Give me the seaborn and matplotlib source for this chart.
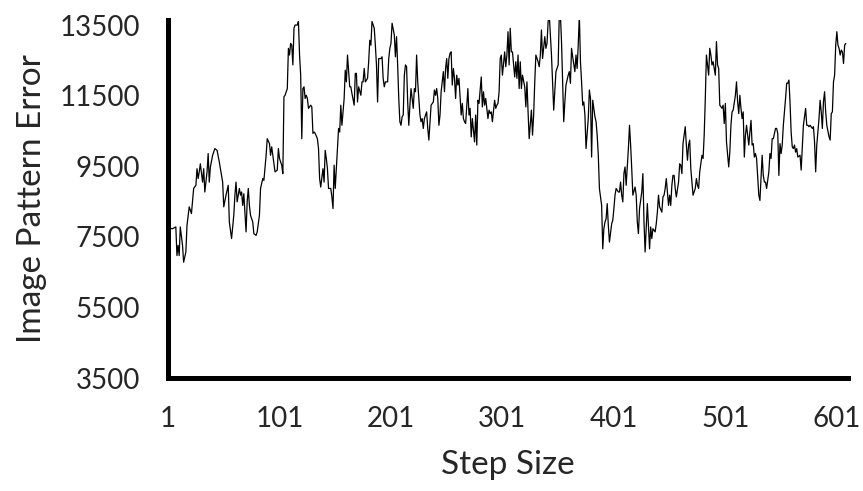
import seaborn as sns
import matplotlib.pyplot as plt
import pandas as pd

# values
steps = [
    1, 5, 8, 9, 10, 11, 12, 14, 15, 17, 18, 20, 22, 24, 26, 27, 28, 29, 30, 32,
    33, 34, 36, 37, 38, 39, 41, 43, 45, 47, 48, 50, 51, 53, 55, 56, 58, 60, 61, 62,
    63, 65, 66, 67, 68, 69, 71, 72, 73, 74, 75, 77, 78, 80, 81, 83, 84, 86, 87, 89,
    90, 92, 93, 94, 95, 97, 99, 100, 101, 102, 103, 104, 105, 106, 108, 109, 110, 111, 112, 113,
    114, 115, 117, 118, 119, 120, 121, 122, 123, 124, 125, 126, 127, 129, 130, 131, 132, 133, 135, 136,
    137, 138, 140, 141, 142, 143, 144, 145, 147, 148, 149, 150, 151, 153, 154, 155, 156, 157, 159, 160,
    161, 162, 163, 164, 165, 166, 168, 169, 170, 171, 172, 174, 175, 176, 177, 178, 180, 181, 182, 183,
    184, 186, 187, 188, 189, 190, 192, 193, 194, 195, 196, 198, 199, 200, 201, 202, 204, 205, 206, 207,
    208, 209, 210, 211, 212, 213, 214, 215, 216, 217, 218, 219, 221, 222, 223, 224, 225, 227, 228, 229,
    230, 231, 233, 234, 235, 236, 237, 239, 240, 241, 242, 243, 244, 245, 246, 248, 249, 250, 251, 252,
    253, 254, 255, 256, 257, 258, 259, 260, 261, 262, 264, 265, 266, 267, 268, 270, 271, 272, 273, 274,
    276, 277, 278, 279, 280, 282, 283, 284, 285, 286, 288, 289, 290, 291, 292, 294, 295, 296, 297, 298,
    299, 300, 301, 303, 304, 305, 306, 307, 308, 309, 310, 312, 313, 314, 315, 316, 317, 318, 319, 321,
    322, 323, 324, 325, 327, 328, 329, 330, 331, 333, 334, 335, 336, 337, 339, 340, 341, 342, 343, 345,
    346, 347, 348, 349, 351, 352, 353, 354, 355, 356, 357, 358, 360, 361, 362, 363, 364, 366, 367, 368,
    369, 370, 371, 372, 373, 374, 375, 376, 378, 379, 380, 381, 382, 384, 385, 386, 387, 388, 390, 391,
    392, 393, 394, 395, 396, 397, 399, 400, 401, 402, 403, 405, 406, 407, 408, 409, 410, 411, 412, 414,
    415, 416, 417, 418, 420, 421, 422, 423, 424, 426, 427, 428, 429, 430, 431, 432, 433, 434, 435, 436,
    438, 439, 440, 441, 442, 444, 445, 446, 447, 448, 450, 451, 452, 453, 454, 455, 456, 457, 459, 460,
    461, 462, 463, 465, 466, 467, 468, 469, 470, 471, 472, 474, 475, 476, 477, 478, 480, 481, 482, 483,
    484, 486, 487, 488, 489, 490, 492, 493, 494, 495, 496, 498, 499, 500, 501, 502, 504, 505, 506, 507,
    508, 510, 511, 512, 513, 514, 515, 516, 517, 518, 519, 520, 522, 523, 524, 525, 526, 527, 528, 529,
    531, 532, 533, 534, 535, 536, 537, 538, 540, 541, 542, 543, 544, 546, 547, 548, 549, 550, 551, 552,
    553, 555, 556, 557, 558, 559, 560, 561, 562, 563, 564, 565, 566, 568, 569, 570, 571, 573, 574, 575,
    576, 577, 579, 580, 581, 582, 583, 585, 586, 587, 588, 589, 590, 591, 592, 594, 595, 596, 597, 598,
    599, 600, 601, 602, 603, 604, 605, 606, 607, 608, 609,
]
errors = [
    7750, 7730, 7780, 6970, 7260, 6970, 7780, 7260, 6780, 7070, 7820, 8350, 8160, 8870, 8960, 9430, 9150, 9340, 9570, 9050,
    9430, 8770, 9340, 9860, 9050, 9480, 9810, 10000, 9950, 9620, 9430, 9050, 8350, 8680, 8960, 7920, 7450, 8110, 8680, 9050,
    8490, 8870, 8680, 8770, 8390, 8720, 7640, 8490, 8870, 8390, 8110, 7920, 7590, 7540, 7640, 8110, 8870, 9150, 9100, 9810,
    10280, 10140, 9810, 10050, 9810, 9340, 9390, 10000, 9720, 9620, 9530, 9290, 11470, 11510, 11700, 12840, 12650, 12980, 12930, 12370,
    13410, 13500, 13500, 13600, 12650, 12080, 10280, 11700, 11750, 11420, 11510, 11420, 11140, 11230, 11180, 10430, 10470, 10430, 10280, 10000,
    9150, 8910, 9430, 9050, 9950, 9720, 9430, 8870, 8870, 8630, 8300, 9530, 8870, 10000, 10570, 10470, 11230, 10660, 11420, 12220,
    11890, 12650, 12180, 11750, 11750, 11560, 11230, 12130, 12130, 11320, 11750, 11510, 11890, 11890, 12270, 11890, 11990, 12460, 13070, 12930,
    13600, 13410, 12930, 12370, 11320, 12550, 12550, 12600, 11990, 11750, 11890, 11890, 12550, 12840, 12980, 13550, 13220, 12600, 13170, 12370,
    11420, 10760, 10660, 10900, 10950, 12080, 12370, 12320, 11320, 10660, 11230, 11700, 11140, 11700, 11610, 12650, 11890, 10950, 10760, 10850,
    10570, 10850, 11040, 10570, 10240, 10760, 11230, 11320, 11660, 11510, 11700, 11420, 10660, 10950, 11610, 12180, 11610, 12270, 12550, 11990,
    12550, 12700, 12740, 11800, 12270, 11990, 11420, 12080, 11800, 11990, 10950, 11280, 10850, 10760, 10710, 11700, 10950, 11140, 10330, 10850,
    10190, 10950, 10100, 11370, 11280, 12030, 11180, 11610, 11230, 11420, 10850, 11090, 10990, 11040, 10760, 11370, 11140, 11230, 11280, 11610,
    12550, 12650, 12080, 12740, 12320, 12650, 13310, 12370, 13410, 12740, 12740, 12030, 12460, 11990, 12650, 11700, 12460, 11700, 12080, 11750,
    11180, 11890, 11040, 10280, 11090, 10380, 10950, 11890, 12650, 12460, 12320, 12650, 13360, 12550, 13170, 12840, 12980, 13600, 13800, 12650,
    11890, 11090, 11610, 12180, 12370, 13800, 13800, 13030, 11890, 10760, 11320, 11800, 12080, 12180, 11850, 12840, 12600, 12180, 12650, 12270,
    12930, 13800, 12460, 11890, 11230, 11320, 10950, 10000, 10850, 11660, 11420, 9760, 11370, 10900, 10760, 10380, 9810, 8870, 8390, 7160,
    7730, 7920, 8010, 8440, 7820, 7350, 7870, 7970, 8300, 8680, 8870, 8770, 8770, 9050, 8680, 8490, 9300, 9480, 8960, 10000,
    10660, 10100, 9430, 8680, 8910, 8680, 7920, 7590, 8300, 8770, 9290, 7920, 7070, 7730, 8440, 7820, 7160, 7780, 7450, 7730,
    7640, 7870, 8200, 8680, 8350, 8200, 8630, 8680, 8870, 9150, 8390, 8680, 8390, 8960, 9240, 9240, 8870, 8630, 9050, 9570,
    9530, 9290, 10140, 10620, 10100, 9670, 10100, 10240, 9430, 9050, 8680, 8870, 9150, 8960, 8870, 9340, 9810, 9720, 10380, 11420,
    12650, 12080, 12840, 12650, 12370, 12460, 12080, 13030, 12370, 12270, 11230, 11140, 11230, 10710, 11280, 10190, 9480, 9900, 10660, 11040,
    11090, 11510, 11890, 11320, 10990, 11510, 11140, 10850, 11040, 9760, 10380, 10660, 10100, 10470, 10800, 10100, 10140, 9760, 9860, 9720,
    8680, 8530, 9150, 9810, 9240, 9050, 9050, 8870, 9340, 9860, 9720, 10280, 10280, 10570, 10570, 10430, 9240, 10140, 9860, 10100,
    10660, 11420, 11850, 11850, 11940, 11320, 10470, 10050, 10000, 10100, 9900, 10000, 9760, 9810, 9390, 10000, 10660, 11140, 10660, 10660,
    10620, 10660, 10570, 10620, 10190, 9340, 10100, 10850, 11370, 11040, 10570, 11320, 11610, 11040, 10660, 10330, 10240, 10990, 11040, 11890,
    12080, 12930, 13310, 12930, 12840, 12650, 12790, 12740, 12410, 12930, 12980,
]
x_ticks = [1, 101, 201, 301, 401, 501, 601]
y_ticks = [3500, 5500, 7500, 9500, 11500, 13500]

sns.set_style("white")
plt.rcParams["font.family"] = ["Lato", "DejaVu Sans"]

df = pd.DataFrame({"Step Size": steps, "Image Pattern Error": errors})

fig = plt.figure(figsize=(8.63, 4.91), dpi=100)
ax = fig.add_axes([0.1947, 0.2301, 0.7879, 0.7297])
sns.lineplot(data=df, x="Step Size", y="Image Pattern Error",
             color="black", linewidth=0.9, ax=ax)

ax.set_xlim(1, 611)
ax.set_ylim(3500, 13650)
ax.set_xticks(x_ticks)
ax.set_yticks(y_ticks)

for side in ["top", "right"]:
    ax.spines[side].set_visible(False)
for side in ["left", "bottom"]:
    ax.spines[side].set_linewidth(3.6)
    ax.spines[side].set_color("black")

ax.tick_params(width=3.6, length=4, direction="out", color="black", labelsize=20)
ax.tick_params(axis="y", pad=16)
ax.tick_params(axis="x", pad=16)
ax.set_xlabel("Step Size", fontsize=24, labelpad=13)
ax.set_ylabel("Image Pattern Error", fontsize=24, labelpad=9)

fig.savefig("out.png", dpi=100)
